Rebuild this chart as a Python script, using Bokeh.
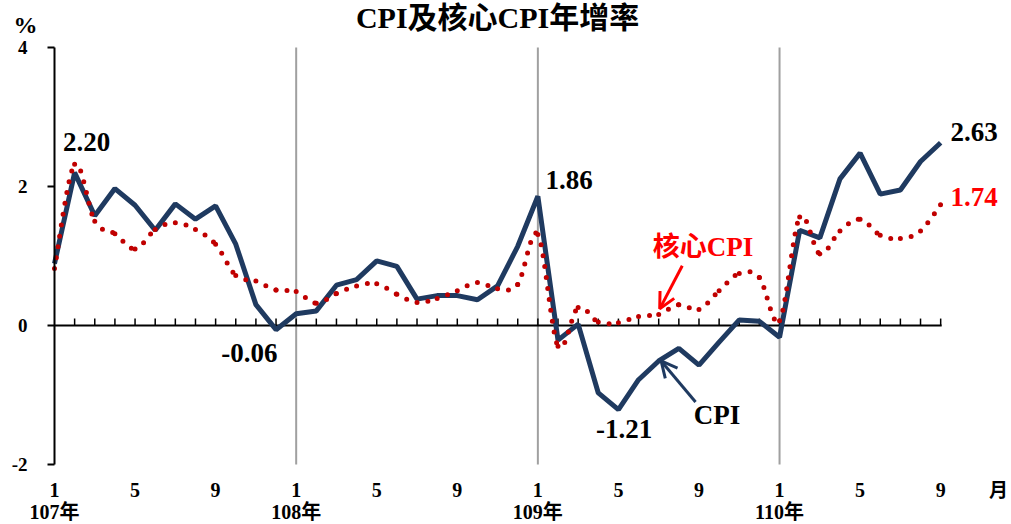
import numpy as np
from bokeh.plotting import figure
from bokeh.models import (Range1d, LinearAxis, FixedTicker, Arrow, OpenHead,
                          ColumnDataSource)
from bokeh.core.properties import value
from bokeh.embed import file_html
from bokeh.resources import INLINE

# ---------------- data ----------------
title_text = "CPI及核心CPI年增率"
year_labels = ["107年", "108年", "109年", "110年"]
month_labels = ["1", "5", "9"]
cpi = [0.89, 2.20, 1.58, 1.97, 1.73, 1.37, 1.75, 1.53, 1.72, 1.17, 0.30, -0.06,
       0.17, 0.21, 0.58, 0.66, 0.93, 0.85, 0.38, 0.43, 0.43, 0.37, 0.57, 1.14,
       1.86, -0.21, 0.02, -0.97, -1.21, -0.78, -0.51, -0.33, -0.57, -0.24, 0.08, 0.06,
       -0.17, 1.37, 1.26, 2.11, 2.48, 1.89, 1.95, 2.36, 2.63]
core = [0.82, 2.32, 1.50, 1.32, 1.10, 1.38, 1.48, 1.38, 1.17, 0.72, 0.64, 0.51,
        0.49, 0.32, 0.46, 0.57, 0.60, 0.45, 0.33, 0.39, 0.50, 0.62, 0.53, 0.59,
        1.31, -0.30, 0.26, 0.05, 0.04, 0.13, 0.16, 0.30, 0.23, 0.50, 0.75, 0.69,
        0.07, 1.56, 1.03, 1.36, 1.53, 1.30, 1.25, 1.36, 1.74]
y_ticks = [-2, 0, 2, 4]
y_tick_labels = ["-2", "0", "2", "4"]

SERIF = "Liberation Serif, Noto Sans CJK TC"
NAVY = "#1F3A60"
DOTRED = "#C00000"
RED = "#FF0000"

n = len(cpi)
idx = np.arange(n)

p = figure(width=1011, height=524, x_range=Range1d(-2.681, 47.517), y_range=Range1d(-2.863, 4.676),
           output_backend="svg", toolbar_location=None, x_axis_type=None,
           min_border_left=0, min_border_right=0, min_border_top=0, min_border_bottom=0)
p.outline_line_color = None
p.background_fill_color = "white"
p.border_fill_color = "white"
p.ygrid.visible = False

# y axis drawn at x = 0 (first month)
ya = p.yaxis[0]
ya.fixed_location = 0
ya.bounds = (-2, 4)
ya.ticker = FixedTicker(ticks=y_ticks)
ya.major_label_overrides = {t: s for t, s in zip(y_ticks, y_tick_labels)}
ya.major_label_text_font = SERIF
ya.major_label_text_font_style = "bold"
ya.major_label_text_font_size = "19px"
ya.major_label_text_color = "black"
ya.major_tick_out = 7
ya.major_tick_in = 0
ya.major_tick_line_width = 2
ya.major_tick_line_color = "black"
ya.minor_tick_line_color = None
ya.axis_line_width = 2
ya.axis_line_color = "black"
ya.major_label_standoff = 20

# bottom axes: months then years, placed at y = -2
month_ticks = list(range(0, n, 4))
ax1 = LinearAxis(ticker=FixedTicker(ticks=month_ticks),
                 major_label_overrides={t: month_labels[(t % 12) // 4] for t in month_ticks})
year_ticks = list(range(0, n, 12))
ax2 = LinearAxis(ticker=FixedTicker(ticks=year_ticks),
                 major_label_overrides={t: year_labels[i] for i, t in enumerate(year_ticks)})
for ax, so in ((ax1, 18), (ax2, 36)):
    ax.fixed_location = y_ticks[0]
    ax.axis_line_color = None
    ax.major_tick_line_color = None
    ax.minor_tick_line_color = None
    ax.major_tick_out = 0
    ax.major_tick_in = 0
    ax.major_label_text_font = SERIF
    ax.major_label_text_font_style = "bold"
    ax.major_label_text_font_size = "20px"
    ax.major_label_text_color = "black"
    ax.major_label_standoff = so
    p.add_layout(ax, "below")

# year separators
p.segment(x0=year_ticks[1:], x1=year_ticks[1:], y0=-2, y1=4, line_color="#A0A0A0", line_width=2)

# zero line with monthly ticks
p.segment(x0=[0], x1=[n - 1 + 0.05], y0=[0], y1=[0], line_color="black", line_width=2)
p.segment(x0=idx[1:], x1=idx[1:], y0=0, y1=0.1, line_color="black", line_width=1.5)

# CPI line
p.line(idx, cpi, line_color=NAVY, line_width=5)

# core CPI smoothed dotted line (bezier through the monthly points)
c = np.array(core)
prev = np.concatenate([[c[0]], c[:-1]])
nxt = np.concatenate([c[1:], [c[-1]]])
xs = idx.astype(float)
xprev = np.concatenate([[xs[0]], xs[:-1]])
xnxt = np.concatenate([xs[1:], [xs[-1]]])
tx = (xnxt - xprev) / 6.0
ty = (nxt - prev) / 6.0
p.bezier(x0=xs[:-1], y0=c[:-1], x1=xs[1:], y1=c[1:],
         cx0=xs[:-1] + tx[:-1], cy0=c[:-1] + ty[:-1],
         cx1=xs[1:] - tx[1:], cy1=c[1:] - ty[1:],
         line_color=DOTRED, line_width=5, line_dash="0 11", line_cap="round")

# value annotations (vertical centres)
ann = ColumnDataSource(dict(
    x=[1.59, 25.55, 9.68, 28.28, 45.66, 45.66, 32.2, 32.9],
    y=[2.633, 2.10, -0.396, -1.496, 2.79, 1.856, 1.13, -1.288],
    text=[f"{cpi[1]:.2f}", f"{cpi[24]:.2f}", f"{cpi[11]:.2f}", f"{cpi[28]:.2f}",
          f"{cpi[-1]:.2f}", f"{core[-1]:.2f}", "核心CPI", "CPI"],
    color=["black", "black", "black", "black", "black", RED, RED, "black"],
))
p.text(x="x", y="y", text="text", text_color="color", source=ann,
       text_font=value(SERIF), text_font_style="bold", text_font_size="27px",
       text_align="center", text_baseline="middle")

# arrows
p.add_layout(Arrow(x_start=31.17, y_start=0.86, x_end=30.05, y_end=0.24,
                   line_color=RED, line_width=3,
                   end=OpenHead(size=16, line_color=RED, line_width=3)))
p.add_layout(Arrow(x_start=31.83, y_start=-1.10, x_end=30.12, y_end=-0.51,
                   line_color=NAVY, line_width=3,
                   end=OpenHead(size=16, line_color=NAVY, line_width=3)))

# title and unit labels
p.text(x=[22.0], y=[4.43], text=[title_text], text_font=value(SERIF), text_font_style="bold",
       text_font_size="30px", text_align="center", text_baseline="middle", text_color="black")
p.text(x=[-1.44], y=[4.33], text=["%"], text_font=value(SERIF), text_font_style="bold",
       text_font_size="24px", text_align="center", text_baseline="middle", text_color="black")
p.text(x=[46.87], y=[-2.374], text=["月"], text_font=value(SERIF), text_font_style="bold",
       text_font_size="19px", text_align="center", text_baseline="middle", text_color="black")

open("out.html", "w").write(file_html(p, INLINE))
